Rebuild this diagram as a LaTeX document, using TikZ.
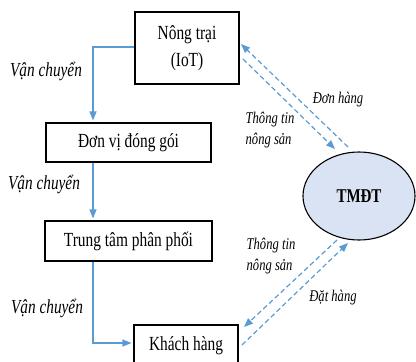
\documentclass[tikz,border=0pt]{standalone}
\usepackage{fontspec}
\setmainfont{Liberation Serif}
\usetikzlibrary{arrows.meta,shapes.geometric}
\definecolor{flowblue}{RGB}{91,155,213}
\definecolor{hubfill}{RGB}{218,227,243}
% text is set slightly taller than wide
\newcommand{\tallText}[1]{\scalebox{1}[1.3]{#1}}
\newcommand{\twoLines}[3]{\tallText{\begin{tabular}{@{}#1@{}}#2\\#3\end{tabular}}}

\begin{document}
\begin{tikzpicture}[x=1pt,y=-1pt,
  stage/.style={draw=black,line width=1.1pt,fill=white,inner sep=0pt,
    font=\fontsize{15.4}{20.8}\selectfont},
  hub/.style={ellipse,draw=black,line width=1.1pt,fill=hubfill,inner sep=0pt,
    minimum width=112pt,minimum height=88pt,font=\fontsize{15}{18}\selectfont\bfseries},
  flow/.style={draw=flowblue,line width=1.2pt,-{Triangle[length=9pt,width=7pt]}},
  link/.style={draw=flowblue,line width=1.2pt,dash pattern=on 5pt off 3pt,
    -{Triangle[length=9pt,width=7pt]}},
  note/.style={inner sep=0pt,font=\fontsize{12.6}{15.4}\selectfont\itshape},
  move/.style={inner sep=0pt,font=\fontsize{15.3}{18}\selectfont\itshape}
]
\clip (0,0) rectangle (416,362);

% supply chain stages
\node[stage,minimum width=104pt,minimum height=72pt] (farm) at (187,48)
  {\twoLines{c}{Nông trại}{(IoT)}};
\node[stage,minimum width=165pt,minimum height=39pt] (pack) at (128.5,142.5)
  {\tallText{Đơn vị đóng gói}};
\node[stage,minimum width=167pt,minimum height=40pt] (dist) at (128.5,241)
  {\tallText{Trung tâm phân phối}};
\node[stage,minimum width=104pt,minimum height=42pt] (cust) at (186,346)
  {\tallText{Khách hàng}};

% e-commerce platform
\node[hub] (ecom) at (359,196) {\tallText{TMĐT}};

% physical flow
\draw[flow,shorten >=2pt] ([yshift=1pt]farm.west) -| ([xshift=-35.5pt]pack.north);
\draw[flow,shorten >=2pt] ([xshift=-35.5pt]pack.south) -- ([xshift=-35.5pt]dist.north);
\draw[flow,shorten >=2pt] ([xshift=-35.5pt]dist.south) |- ([yshift=3pt]cust.west);

\node[move] (mv1) at (46,71) {\tallText{Vận chuyển}};
\node[move] (mv2) at (44,184) {\tallText{Vận chuyển}};
\node[move] (mv3) at (47,308) {\tallText{Vận chuyển}};

% information flow with the platform
\coordinate (farmIn)  at (241,44);
\coordinate (ecomOut) at (348,147);
\coordinate (farmOut) at (243,59);
\coordinate (ecomIn)  at (335,149);
\coordinate (ecomOut2) at (337,240);
\coordinate (custIn)  at (244,327);
\coordinate (custOut) at (242,345);
\coordinate (ecomIn2) at (348,243);

\draw[link] (ecomOut) -- (farmIn);
\draw[link] (farmOut) -- (ecomIn);
\draw[link] (ecomOut2) -- (custIn);
\draw[link] (custOut) -- (ecomIn2);

\node[note] (order) at (338,100) {\tallText{Đơn hàng}};
\node[note] (info1) at (270,130) {\twoLines{l}{Thông tin}{nông sản}};
\node[note] (info2) at (271,256) {\twoLines{l}{Thông tin}{nông sản}};
\node[note] (buy) at (333,298) {\tallText{Đặt hàng}};
\end{tikzpicture}
\end{document}
